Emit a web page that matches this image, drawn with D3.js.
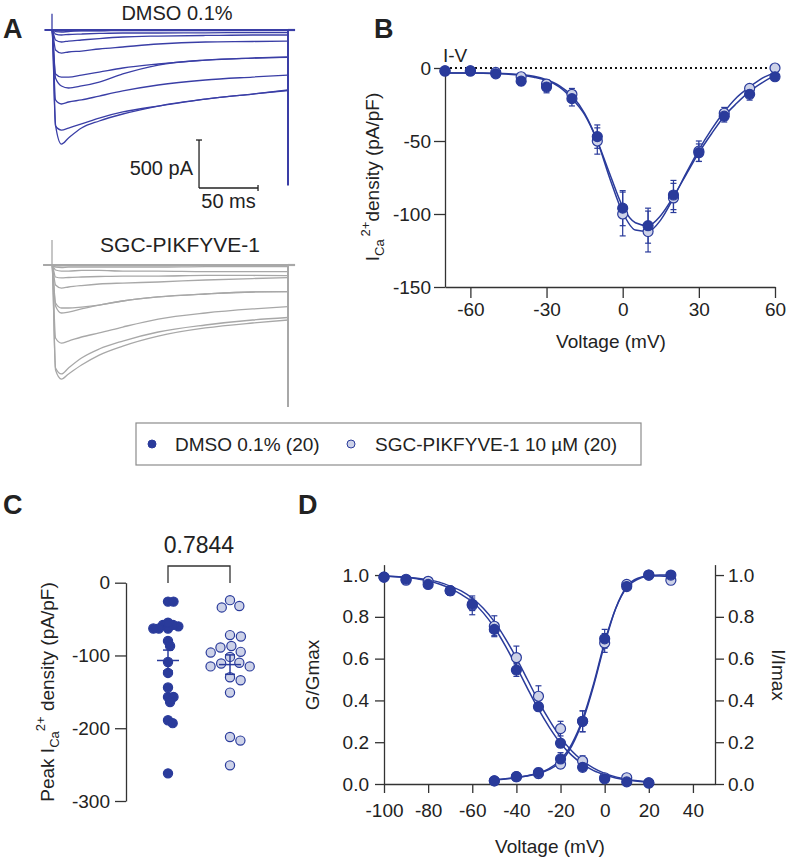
<!DOCTYPE html>
<html><head><meta charset="utf-8">
<script src="https://cdn.jsdelivr.net/npm/d3@7"></script>
<style>
body{margin:0;background:#fff;}
svg text{font-family:"Liberation Sans",Arial,Helvetica,sans-serif;fill:#222;}
</style></head><body>
<svg id="fig" width="789" height="858"></svg>
<script>
// ---------------- DATA ----------------
// Panel A: current traces (time in ms, current in pA)
const traceTimes = [3, 8, 14, 25, 40, 60, 90, 130, 170, 200];
const dmsoTraces = [
  [0,0,0,0,0,0,0,0,0,0],
  [-6,-8,-6,-5,-5,-4,-4,-4,-4,-4],
  [-16,-21,-16,-10,-10,-5,-5,-5,-5,-5],
  [-42,-52,-47,-42,-36,-31,-31,-29,-28,-28],
  [-104,-125,-115,-104,-89,-73,-63,-57,-52,-52],
  [-208,-240,-229,-219,-198,-177,-146,-125,-120,-115],
  [-458,-490,-490,-469,-438,-396,-354,-313,-292,-286],
  [-500,-583,-604,-583,-542,-458,-365,-313,-292,-281],
  [-729,-771,-750,-729,-688,-635,-573,-521,-490,-469],
  [-1000,-1042,-1021,-979,-917,-854,-792,-719,-667,-630],
  [-990,-1188,-1125,-1021,-948,-875,-792,-719,-667,-625]
];
const sgcTraces = [
  [0,0,0,0,0,0,0,0,0,0],
  [-6,-8,-6,-5,-5,-5,-5,-5,-5,-5],
  [-21,-26,-21,-21,-21,-21,-21,-16,-16,-16],
  [-52,-63,-63,-57,-57,-63,-63,-68,-68,-70],
  [-125,-135,-130,-125,-120,-115,-115,-109,-109,-111],
  [-208,-240,-229,-214,-198,-188,-177,-156,-141,-132],
  [-396,-448,-448,-438,-417,-375,-333,-302,-281,-278],
  [-427,-500,-490,-458,-417,-375,-333,-302,-281,-278],
  [-760,-813,-792,-750,-708,-646,-563,-500,-458,-434],
  [-1073,-1135,-1073,-969,-875,-792,-698,-625,-573,-547],
  [-1094,-1188,-1135,-1042,-938,-844,-740,-656,-604,-573]
];
const dmsoArtifact = [170, -1620];   // onset (pA), offset (pA)
const sgcArtifact = [260, -1480];
const scaleBarTime = 50;   // ms
const scaleBarCurrent = 500; // pA

// Panel B: I-V
const ivVoltage = [-70,-60,-50,-40,-30,-20,-10,0,10,20,30,40,50,60];
const ivDmso    = [-2,-2,-4,-9,-13,-21,-47,-96,-108,-87,-58,-33,-18,-6];
const ivDmsoSem = [1,1,1,3,4,5,8,12,12,10,6,4,4,2];
const ivSgc     = [-2,-2,-3,-6,-11,-18,-50,-100,-112,-89,-57,-31,-14,0];
const ivSgcSem  = [1,1,1,2,3,4,9,15,14,10,7,4,2,1];
const ivFitV    = [-70,-65,-60,-55,-50,-45,-40,-35,-30,-25,-20,-15,-10,-5,0,5,10,15,20,25,30,35,40,45,50,55,60];
const ivDmsoFit = [-3.5,-3.5,-3.5,-3.6,-3.8,-4.2,-5,-6.3,-8.5,-13,-21,-32,-50,-73,-95,-106,-108,-101,-88,-73,-58,-45,-33,-24,-16,-10,-5];
const ivSgcFit  = [-3.5,-3.5,-3.5,-3.5,-3.6,-3.9,-4.5,-5.6,-8,-12,-19,-31,-50,-76,-99,-111,-112,-104,-89,-72,-56,-42,-30,-20,-13,-7,-3];
const ivYTicks = [0,-50,-100,-150];
const ivXTicks = [-60,-30,0,30,60];

// Panel C: peak current density scatter
const peakDmso = [-26,-26,-60,-58,-58,-63,-63,-55,-63,-80,-87,-109,-124,-144,-157,-157,-164,-189,-193,-262];
const peakSgc  = [-32,-24,-34,-72,-74,-95,-89,-87,-96,-110,-115,-102,-115,-111,-134,-130,-151,-212,-217,-251];
const peakPValue = "0.7844";
const peakYTicks = [0,-100,-200,-300];

// Panel D: activation / inactivation
const inactV = [-100,-90,-80,-70,-60,-50,-40,-30,-20,-10,0,10,20];
const inactDmso    = [.99,.98,.955,.925,.86,.74,.545,.37,.195,.08,.025,.01,.005];
const inactDmsoSem = [.01,.01,.01,.02,.03,.03,.03,.02,.02,.01,.01,.005,.005];
const inactSgc     = [.99,.975,.97,.925,.855,.755,.605,.42,.265,.11,.03,.03,.005];
const inactSgcSem  = [.01,.01,.01,.02,.045,.05,.055,.05,.035,.025,.01,.01,.005];
const actV = [-50,-40,-30,-20,-10,0,10,20,30];
const actDmso    = [.015,.035,.055,.12,.30,.695,.945,1.0,1.0];
const actDmsoSem = [.01,.01,.02,.03,.05,.045,.01,.005,.005];
const actSgc     = [.015,.035,.05,.095,.30,.675,.955,1.0,.975];
const actSgcSem  = [.01,.01,.02,.02,.05,.045,.01,.005,.01];
const inactFitV = [-100,-95,-90,-85,-80,-75,-70,-65,-60,-55,-50,-45,-40,-35,-30,-25,-20,-15,-10,-5,0,5,10,15,20];
const inactDmsoFit = [.995,.992,.989,.982,.973,.957,.936,.907,.872,.819,.749,.661,.562,.458,.358,.27,.195,.138,.095,.064,.044,.029,.019,.013,.009];
const inactSgcFit  = [.996,.993,.99,.985,.977,.966,.947,.924,.889,.841,.777,.696,.603,.5,.397,.304,.223,.159,.111,.076,.051,.034,.023,.015,.01];
const actFitV = [-50,-45,-40,-35,-30,-25,-20,-15,-10,-5,0,5,10,15,20,25,30];
const actDmsoFit = [.02,.025,.032,.04,.052,.075,.115,.19,.31,.48,.68,.84,.94,.98,.995,1,1];
const actSgcFit  = [.02,.024,.03,.038,.05,.07,.105,.18,.30,.47,.67,.84,.945,.985,.995,.995,.99];
const dXTicks = [-100,-80,-60,-40,-20,0,20,40];
const dYTicks = [0,0.2,0.4,0.6,0.8,1.0];

const legendLabels = ["DMSO 0.1% (20)", "SGC-PIKFYVE-1 10 \u00B5M (20)"];

// ---------------- STYLE ----------------
const FONT = '"Liberation Sans", Arial, Helvetica, sans-serif';
const DARK = "#2a3b9b";
const LIGHT = "#cdd2e8";
const TRACE_BLUE = "#3a3ea6";
const TRACE_GRAY = "#a8a8a8";
const AXIS = "#333";
const FS = 19;
const intFmt = d => String(d);
const decFmt = d => d.toFixed(1);

const svg = d3.select("#fig");
svg.append("rect").attr("width",789).attr("height",858).attr("fill","#fff");

function styleAxis(g){
  g.attr("font-family",FONT);
  g.selectAll("path.domain").attr("stroke",AXIS).attr("stroke-width",1.3);
  g.selectAll(".tick line").attr("stroke",AXIS).attr("stroke-width",1.3);
  g.selectAll(".tick text").attr("font-family",FONT).attr("font-size",FS).attr("fill","#222");
}
function panelLetter(t,x,y){
  svg.append("text").attr("x",x).attr("y",y).attr("font-size",27).attr("font-weight","bold").attr("fill","#111").text(t);
}
panelLetter("A",3,38); panelLetter("B",374,38); panelLetter("C",3,514); panelLetter("D",298,514);

// ---------------- PANEL A ----------------
const xA = d3.scaleLinear().domain([0,200]).range([52,288]);
const yTop = d3.scaleLinear().domain([0,-500]).range([30,78]);
const yBot = d3.scaleLinear().domain([0,-500]).range([265,313]);

function drawTraces(traces, yS, color, art, tStart){
  const g = svg.append("g");
  const line = d3.line().x(d=>xA(d[0])).y(d=>yS(d[1])).curve(d3.curveMonotoneX);
  traces.forEach(tr=>{
    const pts = [[tStart,0],[0,0]].concat(traceTimes.map((t,i)=>[t,tr[i]]));
    g.append("path").attr("d",line(pts)).attr("fill","none").attr("stroke",color).attr("stroke-width",1.3);
  });
  g.append("path").attr("d",d3.line().x(d=>xA(d[0])).y(d=>yS(d[1]))([[200,0],[206,0]]))
    .attr("stroke",color).attr("stroke-width",2.2).attr("fill","none");
  g.append("path").attr("d",d3.line().x(d=>xA(d[0])).y(d=>yS(d[1]))([[tStart,0],[200,0]]))
    .attr("stroke",color).attr("stroke-width",2.2).attr("fill","none");
  g.append("line").attr("x1",xA(0)).attr("x2",xA(0)).attr("y1",yS(art[0])).attr("y2",yS(0))
    .attr("stroke",color).attr("stroke-width",1.3);
  g.append("line").attr("x1",xA(200)).attr("x2",xA(200)).attr("y1",yS(0)).attr("y2",yS(art[1]))
    .attr("stroke",color).attr("stroke-width",2);
}
drawTraces(dmsoTraces, yTop, TRACE_BLUE, dmsoArtifact, -6);
drawTraces(sgcTraces, yBot, TRACE_GRAY, sgcArtifact, -7);

svg.append("text").attr("x",177).attr("y",20).attr("text-anchor","middle").attr("font-size",20).text("DMSO 0.1%");
svg.append("text").attr("x",180).attr("y",252).attr("text-anchor","middle").attr("font-size",21).text("SGC-PIKFYVE-1");

// scale bar
const sbT0 = 124.6, sbI0 = -1646;
const sb = svg.append("g").attr("stroke","#222").attr("stroke-width",1.3);
sb.append("line").attr("x1",xA(sbT0)).attr("x2",xA(sbT0)).attr("y1",yTop(sbI0+scaleBarCurrent)).attr("y2",yTop(sbI0));
sb.append("line").attr("x1",xA(sbT0)-3).attr("x2",xA(sbT0)+3).attr("y1",yTop(sbI0+scaleBarCurrent)).attr("y2",yTop(sbI0+scaleBarCurrent));
sb.append("line").attr("x1",xA(sbT0)).attr("x2",xA(sbT0+scaleBarTime)).attr("y1",yTop(sbI0)).attr("y2",yTop(sbI0));
sb.append("line").attr("x1",xA(sbT0+scaleBarTime)).attr("x2",xA(sbT0+scaleBarTime)).attr("y1",yTop(sbI0)-3).attr("y2",yTop(sbI0)+3);
svg.append("text").attr("x",xA(sbT0)-6).attr("y",175).attr("text-anchor","end").attr("font-size",20).text(scaleBarCurrent+" pA");
svg.append("text").attr("x",xA(sbT0+scaleBarTime/2)).attr("y",208).attr("text-anchor","middle").attr("font-size",20).text(scaleBarTime+" ms");

// ---------------- PANEL B ----------------
const xB = d3.scaleLinear().domain([-70,60]).range([445,775]);
const yB = d3.scaleLinear().domain([-150,0]).range([287,68]);
const gBy = svg.append("g").attr("transform","translate(445,0)")
  .call(d3.axisLeft(yB).tickValues(ivYTicks).tickFormat(intFmt).tickSize(11).tickPadding(3).tickSizeOuter(0));
styleAxis(gBy);
const gBx = svg.append("g").attr("transform","translate(0,287)")
  .call(d3.axisBottom(xB).tickValues(ivXTicks).tickFormat(intFmt).tickSize(11).tickPadding(5).tickSizeOuter(0));
styleAxis(gBx);
svg.append("line").attr("x1",xB(-70)).attr("x2",xB(60)).attr("y1",yB(0)).attr("y2",yB(0))
  .attr("stroke","#111").attr("stroke-width",2).attr("stroke-dasharray","2,3");
svg.append("text").attr("x",443).attr("y",62).attr("font-size",FS).text("I-V");
svg.append("text").attr("x",611).attr("y",348).attr("text-anchor","middle").attr("font-size",FS).text("Voltage (mV)");
{
  const t = svg.append("text").attr("transform","translate(379,177) rotate(-90)").attr("text-anchor","middle").attr("font-size",FS);
  t.append("tspan").text("I");
  t.append("tspan").attr("font-size",13).attr("dy",5).text("Ca");
  t.append("tspan").attr("font-size",13).attr("dy",-14).attr("dx",3).text("2+");
  t.append("tspan").attr("dy",9).text("density (pA/pF)");
}

function errorBars(g, xs, ys, vals, sems, cap){
  vals.forEach((v,i)=>{
    const x = xs(i), y1 = ys(v - sems[i]), y2 = ys(v + sems[i]);
    g.append("line").attr("x1",x).attr("x2",x).attr("y1",y1).attr("y2",y2).attr("stroke",DARK).attr("stroke-width",1.2);
    g.append("line").attr("x1",x-cap).attr("x2",x+cap).attr("y1",y1).attr("y2",y1).attr("stroke",DARK).attr("stroke-width",1.2);
    g.append("line").attr("x1",x-cap).attr("x2",x+cap).attr("y1",y2).attr("y2",y2).attr("stroke",DARK).attr("stroke-width",1.2);
  });
}
function fitLine(g, xS, yS, xv, yv){
  g.append("path").attr("d", d3.line().x((d,i)=>xS(xv[i])).y(d=>yS(d)).curve(d3.curveMonotoneX)(yv))
    .attr("fill","none").attr("stroke",DARK).attr("stroke-width",1.5);
}
function points(g, xS, yS, xv, yv, filled, r){
  yv.forEach((v,i)=>{
    g.append("circle").attr("cx",xS(xv[i])).attr("cy",yS(v)).attr("r",r)
      .attr("fill",filled?DARK:LIGHT).attr("stroke",DARK).attr("stroke-width",1.2);
  });
}
{
  const g = svg.append("g");
  errorBars(g, i=>xB(ivVoltage[i]), yB, ivSgc, ivSgcSem, 3);
  errorBars(g, i=>xB(ivVoltage[i]), yB, ivDmso, ivDmsoSem, 3);
  fitLine(g, xB, yB, ivFitV, ivSgcFit);
  fitLine(g, xB, yB, ivFitV, ivDmsoFit);
  points(g, xB, yB, ivVoltage, ivSgc, false, 5);
  points(g, xB, yB, ivVoltage, ivDmso, true, 5);
}

// ---------------- LEGEND ----------------
{
  const g = svg.append("g");
  g.append("rect").attr("x",136).attr("y",423).attr("width",505).attr("height",42)
    .attr("fill","none").attr("stroke","#8c8c8c").attr("stroke-width",1.2);
  g.append("circle").attr("cx",152).attr("cy",444).attr("r",4).attr("fill",DARK).attr("stroke",DARK);
  g.append("text").attr("x",175).attr("y",451).attr("font-size",FS).text(legendLabels[0]);
  g.append("circle").attr("cx",351).attr("cy",444).attr("r",4).attr("fill",LIGHT).attr("stroke",DARK);
  g.append("text").attr("x",375).attr("y",451).attr("font-size",FS).text(legendLabels[1]);
}

// ---------------- PANEL C ----------------
const yC = d3.scaleLinear().domain([-300,0]).range([801,582.7]);
const xC = d3.scalePoint().domain(["DMSO","SGC"]).range([168,230]);
const gCy = svg.append("g").attr("transform","translate(126,0)")
  .call(d3.axisLeft(yC).tickValues(peakYTicks).tickFormat(intFmt).tickSize(11).tickPadding(5).tickSizeOuter(0));
styleAxis(gCy);
{
  const t = svg.append("text").attr("transform","translate(54,692) rotate(-90)").attr("text-anchor","middle").attr("font-size",FS);
  t.append("tspan").text("Peak I");
  t.append("tspan").attr("font-size",13).attr("dy",5).text("Ca");
  t.append("tspan").attr("font-size",13).attr("dy",-14).text("2+");
  t.append("tspan").attr("dy",9).text(" density (pA/pF)");
}
function beeswarm(vals, cx, minDist){
  const order = vals.map((v,i)=>i).sort((a,b)=>vals[b]-vals[a]);
  const placed = [];
  const out = new Array(vals.length);
  order.forEach(i=>{
    const y = yC(vals[i]);
    const cands = [0];
    placed.forEach(p=>{
      const dy = Math.abs(p.y - y);
      if (dy < minDist){ const dx = Math.sqrt(minDist*minDist - dy*dy); cands.push(p.x+dx, p.x-dx); }
    });
    cands.sort((a,b)=>Math.abs(a)-Math.abs(b));
    let xo = 0;
    for (const c of cands){
      if (placed.every(p=> (p.x-c)*(p.x-c)+(p.y-y)*(p.y-y) >= minDist*minDist - 0.01)){ xo = c; break; }
    }
    placed.push({x:xo,y:y});
    out[i] = {x: cx + xo, y: y};
  });
  return out;
}
function scatterGroup(vals, key, filled, minDist){
  const g = svg.append("g");
  const cx = xC(key);
  beeswarm(vals, cx, minDist).forEach(p=>{
    g.append("circle").attr("cx",p.x).attr("cy",p.y).attr("r",4.6)
      .attr("fill",filled?DARK:LIGHT).attr("stroke",DARK).attr("stroke-width",1.2);
  });
  const m = d3.mean(vals), se = d3.deviation(vals)/Math.sqrt(vals.length);
  const s = svg.append("g").attr("stroke",DARK).attr("stroke-width",1.5);
  s.append("line").attr("x1",cx-11).attr("x2",cx+11).attr("y1",yC(m)).attr("y2",yC(m));
  s.append("line").attr("x1",cx).attr("x2",cx).attr("y1",yC(m-se)).attr("y2",yC(m+se));
  s.append("line").attr("x1",cx-5).attr("x2",cx+5).attr("y1",yC(m-se)).attr("y2",yC(m-se));
  s.append("line").attr("x1",cx-5).attr("x2",cx+5).attr("y1",yC(m+se)).attr("y2",yC(m+se));
}
scatterGroup(peakDmso, "DMSO", true, 5.5);
scatterGroup(peakSgc, "SGC", false, 11);
svg.append("path").attr("d", d3.line()([[xC("DMSO"),583],[xC("DMSO"),566],[xC("SGC"),566],[xC("SGC"),583]]))
  .attr("fill","none").attr("stroke",AXIS).attr("stroke-width",1.3);
svg.append("text").attr("x",(xC("DMSO")+xC("SGC"))/2).attr("y",553).attr("text-anchor","middle").attr("font-size",23).text(peakPValue);

// ---------------- PANEL D ----------------
const xD = d3.scaleLinear().domain([-100,50]).range([384,715]);
const yD = d3.scaleLinear().domain([0,1.05]).range([784,564.6]);
const gDy = svg.append("g").attr("transform","translate(384,0)")
  .call(d3.axisLeft(yD).tickValues(dYTicks).tickFormat(decFmt).tickSize(9).tickPadding(6).tickSizeOuter(0));
styleAxis(gDy);
const gDr = svg.append("g").attr("transform","translate(715,0)")
  .call(d3.axisRight(yD).tickValues(dYTicks).tickFormat(decFmt).tickSize(9).tickPadding(4).tickSizeOuter(0));
styleAxis(gDr);
const gDx = svg.append("g").attr("transform","translate(0,784)")
  .call(d3.axisBottom(xD).tickValues(dXTicks).tickFormat(intFmt).tickSize(9).tickPadding(11).tickSizeOuter(0));
styleAxis(gDx);
svg.append("text").attr("x",550).attr("y",853).attr("text-anchor","middle").attr("font-size",FS).text("Voltage (mV)");
svg.append("text").attr("transform","translate(319,675) rotate(-90)").attr("text-anchor","middle").attr("font-size",FS).text("G/Gmax");
svg.append("text").attr("transform","translate(772,675) rotate(90)").attr("text-anchor","middle").attr("font-size",FS).text("I/Imax");
{
  const g = svg.append("g");
  errorBars(g, i=>xD(inactV[i]), yD, inactSgc, inactSgcSem, 3);
  errorBars(g, i=>xD(inactV[i]), yD, inactDmso, inactDmsoSem, 3);
  errorBars(g, i=>xD(actV[i]), yD, actSgc, actSgcSem, 3);
  errorBars(g, i=>xD(actV[i]), yD, actDmso, actDmsoSem, 3);
  fitLine(g, xD, yD, inactFitV, inactSgcFit);
  fitLine(g, xD, yD, inactFitV, inactDmsoFit);
  fitLine(g, xD, yD, actFitV, actSgcFit);
  fitLine(g, xD, yD, actFitV, actDmsoFit);
  points(g, xD, yD, inactV, inactSgc, false, 5);
  points(g, xD, yD, actV, actSgc, false, 5);
  points(g, xD, yD, inactV, inactDmso, true, 5);
  points(g, xD, yD, actV, actDmso, true, 5);
}
</script>
</body></html>
